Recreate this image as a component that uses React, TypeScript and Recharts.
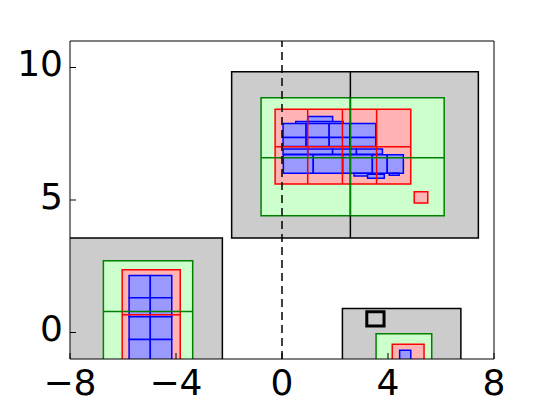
import { ComposedChart, ReferenceArea, ReferenceLine, XAxis, YAxis } from "recharts"

type Box = [number, number, number, number] // x1, x2, y1, y2
type Seg = [number, number, number, number] // xa, ya, xb, yb

const xTicks = [-8, -4, 0, 4, 8]
const yTicks = [0, 5, 10]

const grayBoxes: Box[] = [
  [-1.9, 7.41, 3.57, 9.84],
  [-8.03, -2.25, -1.5, 3.57],
  [2.28, 6.75, -1.5, 0.91],
]

const greenBoxes: Box[] = [
  [-0.79, 6.12, 4.41, 8.86],
  [-6.74, -3.37, -1.5, 2.71],
  [3.55, 5.65, -1.5, -0.05],
]

const redBoxes: Box[] = [
  [-0.26, 4.86, 5.6, 8.42],
  [4.99, 5.5, 4.89, 5.31],
  [-6.03, -3.84, -1.5, 2.37],
  [4.16, 5.36, -1.5, -0.44],
]

const blueBoxes: Box[] = [
  [0.97, 1.91, 7.92, 8.15],
  [0.52, 2.31, 7.86, 7.96],
  [0.04, 0.91, 7.36, 7.89],
  [0.91, 1.78, 7.36, 7.89],
  [1.78, 2.57, 7.36, 7.89],
  [2.57, 3.54, 7.36, 7.89],
  [0.04, 0.91, 7.02, 7.36],
  [0.91, 1.78, 7.02, 7.36],
  [1.78, 2.57, 7.02, 7.36],
  [2.57, 3.54, 7.02, 7.36],
  [0.04, 0.97, 6.73, 6.92],
  [0.97, 1.91, 6.73, 6.92],
  [1.91, 2.81, 6.73, 6.92],
  [2.81, 3.79, 6.73, 6.92],
  [0.05, 1.18, 6.01, 6.71],
  [1.18, 2.29, 6.01, 6.71],
  [2.29, 3.41, 6.01, 6.71],
  [3.41, 3.97, 6.01, 6.71],
  [3.97, 4.58, 6.01, 6.71],
  [2.72, 3.38, 5.91, 6.01],
  [3.23, 3.86, 5.82, 5.97],
  [4.05, 4.42, 5.93, 6.01],
  [-5.77, -4.97, 1.31, 2.15],
  [-4.97, -4.16, 1.31, 2.15],
  [-5.77, -4.97, 0.59, 1.31],
  [-4.97, -4.16, 0.59, 1.31],
  [-5.77, -4.97, -0.26, 0.59],
  [-4.97, -4.16, -0.26, 0.59],
  [-5.77, -4.97, -1.1, -0.26],
  [-4.97, -4.16, -1.1, -0.26],
  [4.44, 4.86, -1.5, -0.67],
]

const markerBoxes: Box[] = [[3.2, 3.85, 0.25, 0.78]]

const blackSplits: Seg[] = [[2.58, 3.57, 2.58, 9.84]]

const redSplits: Seg[] = [
  [0.97, 5.6, 0.97, 8.42],
  [2.28, 5.6, 2.28, 8.42],
  [3.57, 5.6, 3.57, 8.42],
  [-0.26, 7.01, 4.86, 7.01],
  [-6.03, 0.67, -3.84, 0.67],
]

const greenSplits: Seg[] = [
  [-0.79, 6.59, 6.12, 6.59],
  [2.58, 4.41, 2.58, 8.86],
  [-6.74, 0.79, -3.37, 0.79],
]

const minus = (v: number) => String(v).replace("-", "\u2212")
const tickFont = { fontSize: 36, fill: "#000", fontFamily: "DejaVu Sans" }

function boxes(list: Box[], name: string, fill: string, stroke: string, width = 1.5) {
  return list.map(([x1, x2, y1, y2], i) => (
    <ReferenceArea
      key={`${name}-${i}`}
      x1={x1}
      x2={x2}
      y1={y1}
      y2={y2}
      fill={fill}
      fillOpacity={1}
      stroke={stroke}
      strokeWidth={width}
      ifOverflow="hidden"
    />
  ))
}

function splits(list: Seg[], name: string, stroke: string) {
  return list.map(([xa, ya, xb, yb], i) => (
    <ReferenceLine
      key={`${name}-${i}`}
      segment={[
        { x: xa, y: ya },
        { x: xb, y: yb },
      ]}
      stroke={stroke}
      strokeWidth={1.5}
      ifOverflow="hidden"
    />
  ))
}

export default function App() {
  return (
    <div style={{ position: "absolute", left: 0, top: 0, fontFamily: "DejaVu Sans" }}>
      <ComposedChart width={550} height={400} data={[]} margin={{ top: 40, right: 55, bottom: 0, left: 0 }}>
        <XAxis
          type="number"
          dataKey="x"
          domain={[-8, 8]}
          ticks={xTicks}
          allowDataOverflow
          height={41}
          tickSize={-6}
          tickMargin={16}
          tickFormatter={minus}
          tick={tickFont}
          stroke="#000"
        />
        <XAxis
          xAxisId="top"
          orientation="top"
          type="number"
          domain={[-8, 8]}
          ticks={xTicks}
          allowDataOverflow
          height={1}
          tickSize={-6}
          tick={false}
          stroke="#000"
        />
        <YAxis
          type="number"
          dataKey="y"
          domain={[-1, 11]}
          ticks={yTicks}
          allowDataOverflow
          width={70}
          tickSize={-6}
          tickMargin={13}
          tick={{ ...tickFont, dy: -4 }}
          stroke="#000"
        />
        <YAxis
          yAxisId="right"
          orientation="right"
          type="number"
          domain={[-1, 11]}
          ticks={yTicks}
          allowDataOverflow
          width={1}
          tickSize={-6}
          tick={false}
          stroke="#000"
        />
        {boxes(grayBoxes, "gray", "#cccccc", "#000000")}
        {boxes(greenBoxes, "green", "#ccffcc", "#008000")}
        {boxes(redBoxes, "red", "#ffb3b3", "#ff0000")}
        {boxes(blueBoxes, "blue", "#9999ff", "#0000ff")}
        {boxes(markerBoxes, "marker", "none", "#000000", 3)}
        {splits(blackSplits, "black", "#000000")}
        {splits(redSplits, "redline", "#ff0000")}
        {splits(greenSplits, "greenline", "#008000")}
        <ReferenceLine x={0} stroke="#000" strokeWidth={1.5} strokeDasharray="8 5" />
      </ComposedChart>
    </div>
  )
}
